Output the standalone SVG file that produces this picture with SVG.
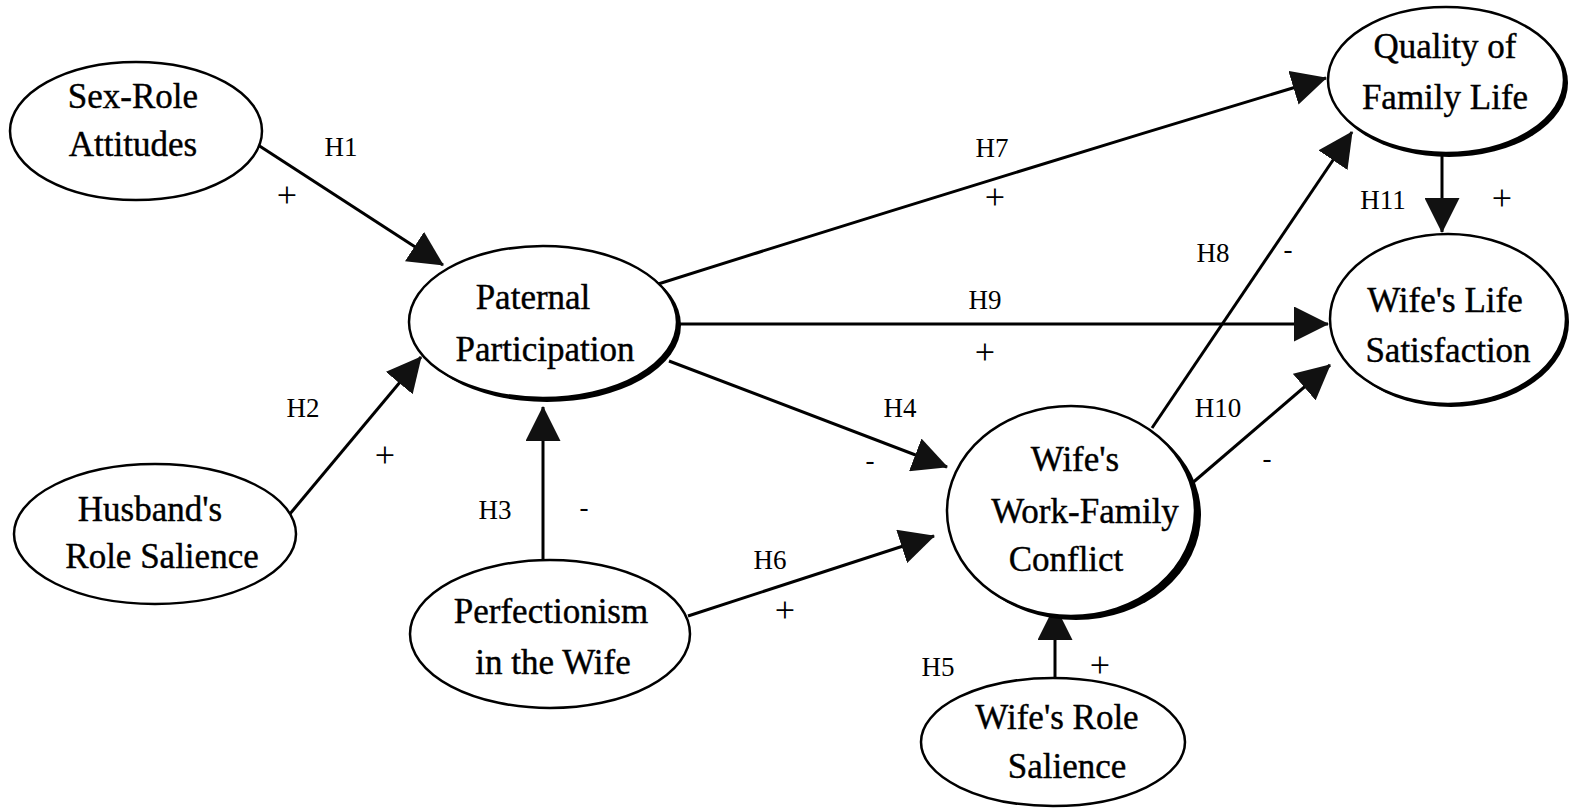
<svg xmlns="http://www.w3.org/2000/svg" width="1570" height="809" viewBox="0 0 1570 809">
<style>
.node ellipse.e{fill:#fff;stroke:#000;stroke-width:2.5}
.node ellipse.s{fill:#000;stroke:none}
.nt{font-family:"Liberation Serif","Times New Roman",serif;font-size:35px;fill:#000;stroke:#000;stroke-width:0.4;text-anchor:middle}
.lb{font-family:"Liberation Serif","Times New Roman",serif;font-size:27px;fill:#000;text-anchor:middle}
.sg{font-family:"Liberation Serif","Times New Roman",serif;font-size:36px;fill:#000;text-anchor:middle}
.c{stroke:#000;stroke-width:3;fill:none;marker-end:url(#ah)}
</style>
<defs>
<marker id="ah" viewBox="0 0 34 34" refX="33" refY="17" markerWidth="35" markerHeight="35" markerUnits="userSpaceOnUse" orient="auto">
<path d="M0,0 L34,17 L0,34 Z" fill="#111"/>
</marker>
</defs>
<rect width="1570" height="809" fill="#fff"/>
<g id="connectors">
<line class="c" x1="258" y1="145" x2="443" y2="265"/>
<line class="c" x1="289" y1="515" x2="421" y2="357"/>
<line class="c" x1="543" y1="561" x2="543" y2="407"/>
<line class="c" x1="669" y1="361" x2="947" y2="467"/>
<line class="c" x1="1055" y1="679" x2="1055" y2="606"/>
<line class="c" x1="688" y1="616" x2="934" y2="536"/>
<path class="c" d="M655,285 Q990,179 1326,78"/>
<line class="c" x1="1152" y1="428" x2="1352" y2="132"/>
<line class="c" x1="678" y1="324" x2="1328" y2="324"/>
<line class="c" x1="1190" y1="485" x2="1330" y2="365"/>
<line class="c" x1="1442" y1="154" x2="1442" y2="232"/>
</g>
<g id="labels">
<text class="lb" x="341" y="156">H1</text><text class="sg" x="287" y="207">+</text>
<text class="lb" x="303" y="417">H2</text><text class="sg" x="385" y="467">+</text>
<text class="lb" x="495" y="519">H3</text><text class="lb" x="584" y="516">-</text>
<text class="lb" x="900" y="417">H4</text><text class="lb" x="870" y="469">-</text>
<text class="lb" x="938" y="676">H5</text><text class="sg" x="1100" y="677">+</text>
<text class="lb" x="770" y="569">H6</text><text class="sg" x="785" y="622">+</text>
<text class="lb" x="992" y="157">H7</text><text class="sg" x="995" y="209">+</text>
<text class="lb" x="1213" y="262">H8</text><text class="lb" x="1288" y="258">-</text>
<text class="lb" x="985" y="309">H9</text><text class="sg" x="985" y="364">+</text>
<text class="lb" x="1218" y="417">H10</text><text class="lb" x="1267" y="467">-</text>
<text class="lb" x="1383" y="209">H11</text><text class="sg" x="1502" y="210">+</text>
</g>
<g id="sex-role" class="node">
<ellipse class="e" cx="136" cy="131" rx="126" ry="69"/>
<text class="nt" x="133" y="108">Sex-Role</text>
<text class="nt" x="133" y="156">Attitudes</text>
</g>
<g id="husband" class="node">
<ellipse class="e" cx="155" cy="534" rx="141" ry="70"/>
<text class="nt" x="150" y="521">Husband's</text>
<text class="nt" x="162" y="568">Role Salience</text>
</g>
<g id="paternal" class="node">
<ellipse class="s" cx="547" cy="325" rx="134" ry="77"/>
<ellipse class="e" cx="543" cy="322" rx="134" ry="76"/>
<text class="nt" x="533" y="309">Paternal</text>
<text class="nt" x="545" y="361">Participation</text>
</g>
<g id="perfectionism" class="node">
<ellipse class="e" cx="550" cy="634" rx="140" ry="74"/>
<text class="nt" x="551" y="623">Perfectionism</text>
<text class="nt" x="553" y="674">in the Wife</text>
</g>
<g id="wfc" class="node">
<ellipse class="s" cx="1076" cy="515" rx="125" ry="105"/>
<ellipse class="e" cx="1071" cy="511" rx="124" ry="105"/>
<text class="nt" x="1075" y="471">Wife's</text>
<text class="nt" x="1085" y="523">Work-Family</text>
<text class="nt" x="1066" y="571">Conflict</text>
</g>
<g id="wife-role" class="node">
<ellipse class="e" cx="1053" cy="742" rx="132" ry="64"/>
<text class="nt" x="1057" y="729">Wife's Role</text>
<text class="nt" x="1067" y="778">Salience</text>
</g>
<g id="quality" class="node">
<ellipse class="s" cx="1449" cy="83" rx="119" ry="74"/>
<ellipse class="e" cx="1446" cy="80" rx="118" ry="73"/>
<text class="nt" x="1445" y="58">Quality of</text>
<text class="nt" x="1445" y="109">Family Life</text>
</g>
<g id="life-sat" class="node">
<ellipse class="s" cx="1451" cy="322" rx="118" ry="85"/>
<ellipse class="e" cx="1448" cy="319" rx="118" ry="85"/>
<text class="nt" x="1445" y="312">Wife's Life</text>
<text class="nt" x="1448" y="362">Satisfaction</text>
</g>
</svg>
